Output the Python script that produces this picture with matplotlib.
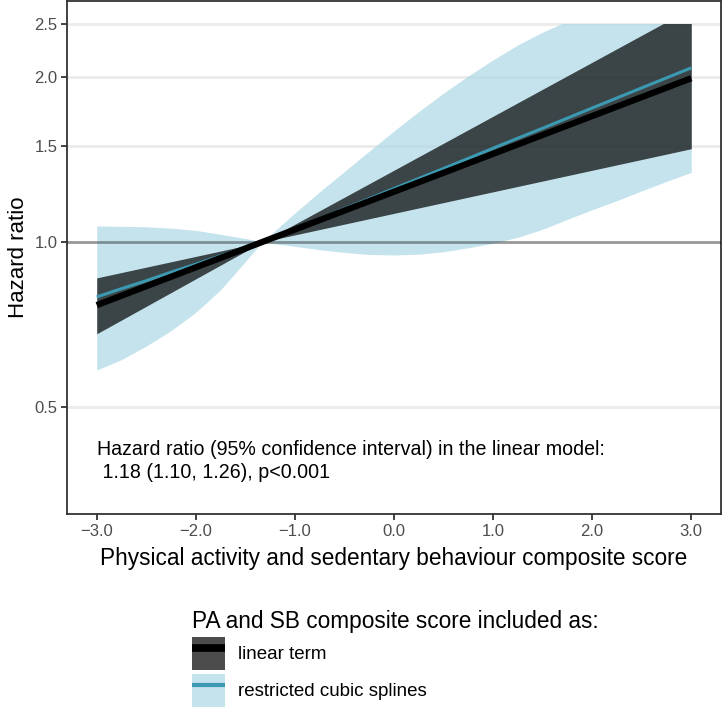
import matplotlib
matplotlib.use('Agg')
import matplotlib.pyplot as plt
from matplotlib.patches import Patch, Rectangle
from matplotlib.lines import Line2D
from matplotlib.ticker import FixedLocator, NullLocator

plt.rcParams['font.family'] = ['Liberation Sans', 'DejaVu Sans']

# linear model (straight on log scale, pinched at the reference value)
x_lin = [-3.0, -1.33, 3.0]
hr_lin = [0.767, 1.0, 1.99]
lo_lin = [0.68, 1.0, 1.48]
hi_lin = [0.86, 1.0, 2.67]

# restricted cubic splines
x_rcs = [-3.0, -2.75, -2.5, -2.25, -2.0, -1.75, -1.5, -1.33, -1.25, -1.0, -0.75, -0.5, -0.25,
         0.0, 0.25, 0.5, 0.75, 1.0, 1.25, 1.5, 1.75, 2.0, 2.25, 2.5, 2.75, 3.0]
hr_rcs = [0.794, 0.822, 0.850, 0.881, 0.911, 0.944, 0.977, 1.0, 1.014, 1.058, 1.103, 1.151, 1.200,
          1.252, 1.306, 1.362, 1.421, 1.483, 1.547, 1.613, 1.683, 1.756, 1.832, 1.911, 1.993, 2.079]
lo_rcs = [0.584, 0.610, 0.646, 0.689, 0.744, 0.818, 0.921, 1.0, 0.995, 0.982, 0.968, 0.957, 0.949,
          0.947, 0.950, 0.960, 0.976, 0.995, 1.02, 1.055, 1.10, 1.145, 1.19, 1.24, 1.29, 1.34]
hi_rcs = [1.070, 1.068, 1.066, 1.060, 1.050, 1.033, 1.015, 1.0, 1.03, 1.130, 1.235, 1.345, 1.465,
          1.595, 1.730, 1.870, 2.010, 2.150, 2.290, 2.415, 2.530, 2.64, 2.75, 2.85, 2.95, 3.05]

y_ticks = [0.5, 1.0, 1.5, 2.0, 2.5]
y_ticklabels = ['0.5', '1.0', '1.5', '2.0', '2.5']
x_ticks = [-3, -2, -1, 0, 1, 2, 3]
x_ticklabels = ['\u22123.0', '\u22122.0', '\u22121.0', '0.0', '1.0', '2.0', '3.0']

dark_col = 'black'
light_col = '#ADD8E6'
line_blue = '#3B9AB2'
axis_col = '#333333'
tick_col = '#4D4D4D'

fig = plt.figure(figsize=(7.22, 7.19), dpi=100)
ax = fig.add_axes([67/722, 1 - 514/719, 654/722, 513/719])

ax.set_yscale('log')
ax.set_xlim(-3.3, 3.3)
ax.set_ylim(0.3189, 2.753)

for yv in y_ticks:
    ax.axhline(yv, color='#EBEBEB', lw=2.0, zorder=0)

# ribbons are cut at the top of the scale (2.5)
clip = Rectangle((-3.3, 0.3), 6.6, 2.5 - 0.3, transform=ax.transData)
f1 = ax.fill_between(x_rcs, lo_rcs, hi_rcs, color=light_col, alpha=0.7, lw=0, zorder=1)
f2 = ax.fill_between(x_lin, lo_lin, hi_lin, color=dark_col, alpha=0.7, lw=0, zorder=2)
f1.set_clip_path(clip)
f2.set_clip_path(clip)

ax.axhline(1.0, color='black', alpha=0.35, lw=2.0, zorder=3)

ax.plot(x_rcs, hr_rcs, color=line_blue, lw=2.2, zorder=4, solid_capstyle='butt')
ax.plot(x_lin, hr_lin, color='black', lw=4.5, zorder=5, solid_capstyle='butt')

ax.yaxis.set_major_locator(FixedLocator(y_ticks))
ax.yaxis.set_minor_locator(NullLocator())
ax.set_yticklabels(y_ticklabels)
ax.set_xticks(x_ticks)
ax.set_xticklabels(x_ticklabels)

for s in ax.spines.values():
    s.set_color(axis_col)
    s.set_linewidth(1.3)
ax.tick_params(axis='both', length=4, width=1.3, color=axis_col,
               labelcolor=tick_col, labelsize=12, pad=3)

ax.set_xlabel('Physical activity and sedentary behaviour composite score', fontsize=16.3, labelpad=6)
ax.set_ylabel('Hazard ratio', fontsize=16, labelpad=4)

ax.text(-3.0, 0.419, 'Hazard ratio (95% confidence interval) in the linear model:',
        fontsize=14.1, va='center', ha='left')
ax.text(-3.0, 0.379, ' 1.18 (1.10, 1.26), p<0.001', fontsize=14.1, va='center', ha='left')

handles = [(Patch(facecolor=dark_col, alpha=0.7, lw=0),
            Line2D([], [], color='black', lw=5.5, solid_capstyle='butt')),
           (Patch(facecolor=light_col, alpha=0.7, lw=0),
            Line2D([], [], color=line_blue, lw=3, solid_capstyle='butt'))]
labels = ['linear term', 'restricted cubic splines']
leg = fig.legend(handles, labels, loc='upper left', bbox_to_anchor=(179/722, 1 - 597/719),
                 frameon=False, fontsize=13.5, title='PA and SB composite score included as:',
                 title_fontsize=16.3, handlelength=1.76, handleheight=2.33, labelspacing=0.21,
                 handletextpad=0.7, alignment='left', borderpad=0.2)

fig.savefig('out.png', dpi=100)
